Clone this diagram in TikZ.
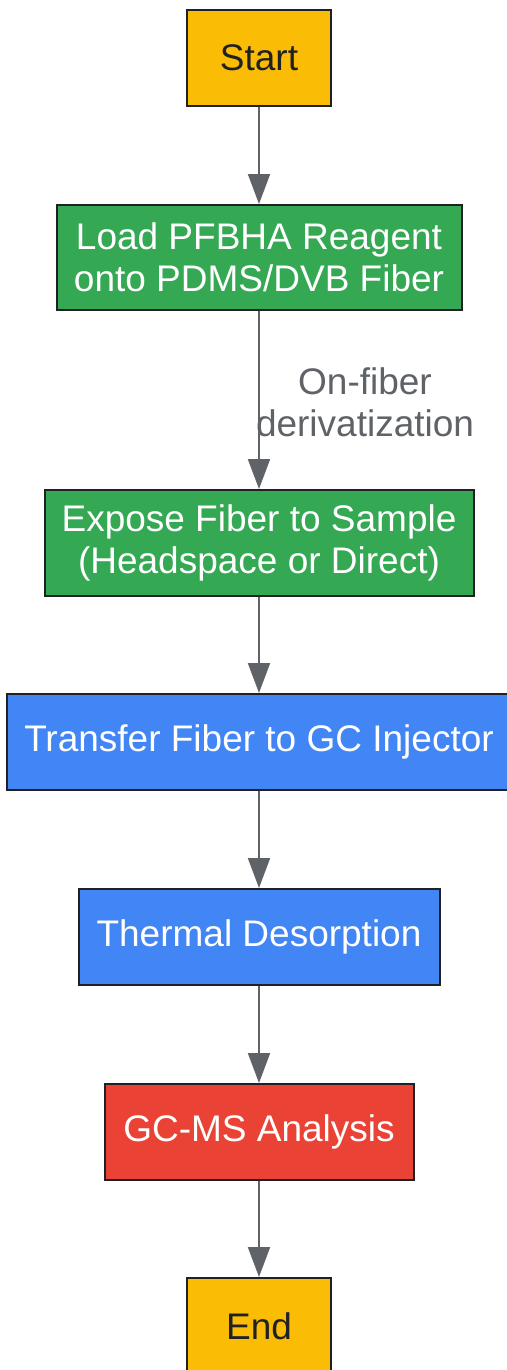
\documentclass[tikz,border=0pt]{standalone}
\usepackage{fontspec}
\setmainfont{Liberation Sans}
\usetikzlibrary{arrows.meta}
\definecolor{stepyellow}{RGB}{251,188,5}
\definecolor{stepgreen}{RGB}{52,168,83}
\definecolor{stepblue}{RGB}{66,133,244}
\definecolor{stepred}{RGB}{234,67,53}
\definecolor{linegray}{RGB}{95,99,104}
\definecolor{textdark}{RGB}{32,33,36}
\tikzset{
  stepbox/.style={
    draw=textdark,
    line width=1pt,
    align=center,
    inner sep=0pt,
    font=\fontsize{18.5}{21}\selectfont
  },
  box-yellow/.style={stepbox, fill=stepyellow, text=textdark},
  box-green/.style={stepbox, fill=stepgreen, text=white},
  box-blue/.style={stepbox, fill=stepblue, text=white},
  box-red/.style={stepbox, fill=stepred, text=white},
  flow/.style={
    draw=linegray,
    line width=1pt,
    -{Triangle[width=11pt,length=15pt]}
  },
  edge-label/.style={text=linegray, align=center, font=\fontsize{18.5}{21}\selectfont}
}
\begin{document}
\begin{tikzpicture}[x=0.5pt, y=-0.5pt]
  \useasboundingbox[fill=white] (0,0) rectangle (507,1370);
  % Process steps
  \node[box-yellow, minimum width=72pt, minimum height=48pt] (start) at (259,58) {Start};
  \node[box-green, minimum width=202.5pt, minimum height=52.5pt] (load) at (259,257.5) {Load PFBHA Reagent\\onto PDMS/DVB Fiber};
  \node[box-green, minimum width=214.5pt, minimum height=53pt] (expose) at (259,543) {Expose Fiber to Sample\\(Headspace or Direct)};
  \node[box-blue, minimum width=252pt, minimum height=48pt] (transfer) at (259,742) {Transfer Fiber to GC Injector};
  \node[box-blue, minimum width=180.5pt, minimum height=48pt] (thermal) at (259,937) {Thermal Desorption};
  \node[box-red, minimum width=154.5pt, minimum height=48pt] (gcms) at (259,1132) {GC-MS Analysis};
  \node[box-yellow, minimum width=72pt, minimum height=48pt] (end) at (259,1326) {End};
  % Edge label
  \node[edge-label] (deriv) at (365,402) {On-fiber\\derivatization};
  % Connectors
  \draw[flow] (start) -- (load);
  \draw[flow] (load) -- (expose);
  \draw[flow] (expose) -- (transfer);
  \draw[flow] (transfer) -- (thermal);
  \draw[flow] (thermal) -- (gcms);
  \draw[flow] (gcms) -- (end);
\end{tikzpicture}
\end{document}
